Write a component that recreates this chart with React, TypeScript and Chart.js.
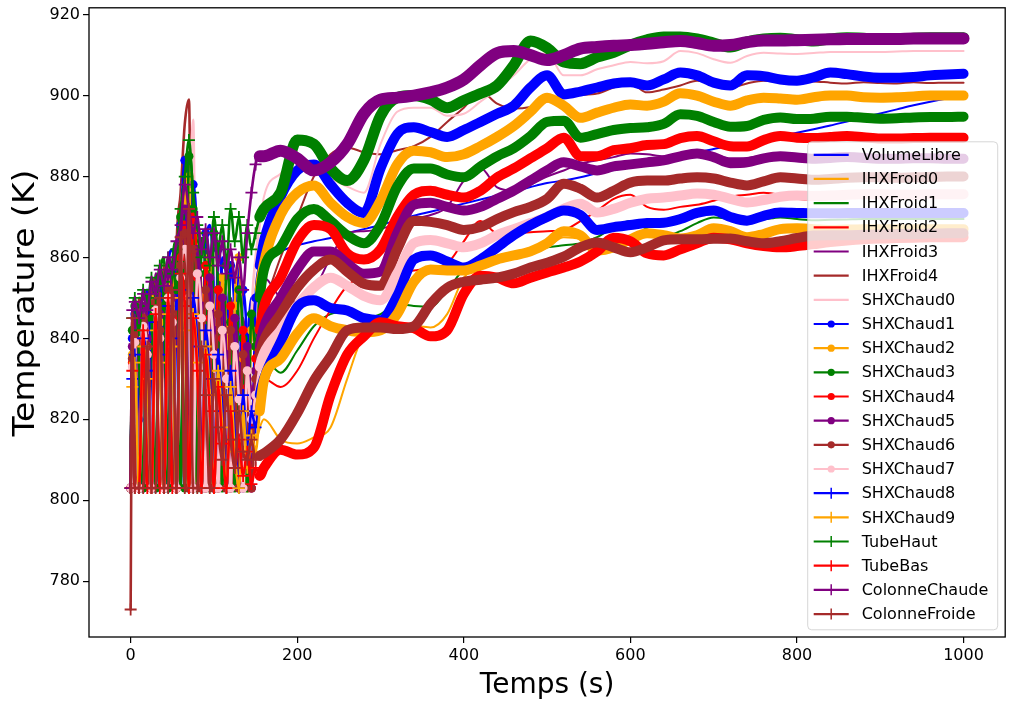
import React, { useEffect, useRef } from "react";
import { Chart, registerables } from "chart.js";

Chart.register(...registerables);

const timeS = [
  0, 2, 5, 10, 15, 20, 25, 30, 35, 40, 45,
  50, 55, 60, 65, 70, 75, 80, 85, 90, 95, 100,
  105, 110, 115, 120, 125, 130, 135, 140, 145, 150, 155,
  160, 180, 200, 220, 240, 260, 280, 300, 320, 340,
  360, 380, 400, 420, 440, 460, 480, 500, 520, 540,
  560, 580, 600, 620, 640, 660, 680, 700, 720, 740,
  760, 780, 800, 820, 840, 860, 880, 900, 920, 940,
  960, 980, 1000,
];

const xTicks = [0, 200, 400, 600, 800, 1000];
const yTicks = [780, 800, 820, 840, 860, 880, 900, 920];

const volumeLibre = [
  803, 838, 845, 803, 848, 852, 803, 855, 849, 803, 858,
  862, 846, 803, 870, 884, 866, 850, 803, 858, 868, 852,
  803, 860, 855, 803, 840, 858, 803, 835, 850, 838, 852,
  858, 861.5, 863, 864, 864.8, 866, 867, 868, 869.2, 870.3,
  871.3, 872.3, 873.3, 874.3, 875.3, 876.3, 877.4, 878.4, 879, 879.8,
  880.8, 881.6, 882.5, 883.3, 884.2, 885, 885.9, 886.8, 887.5, 888.2,
  889, 889.9, 890.8, 891.7, 892.6, 893.6, 894.6, 895.6, 896.6, 897.6,
  898.5, 899.3, 900,
];

const ihxFroid0 = [
  803, 836, 842, 832, 803, 845, 838, 803, 850, 842, 803,
  855, 848, 866, 803, 878, 860, 803, 845, 830, 803, 838,
  825, 803, 832, 818, 803, 826, 812, 803, 822, 815, 818,
  820, 815, 814, 815.5, 818, 830, 841, 843, 843.5, 843.2,
  842.7, 846, 855, 857.5, 859, 860, 861, 862.5, 865, 864.5,
  862.5, 863, 865, 866, 865.5, 865, 865.7, 867, 866.6, 865.3,
  866, 866.8, 867, 866.9, 866.8, 866.8, 866.9, 866.9, 866.9, 866.9,
  866.9, 866.9, 866.9,
];

const ihxFroid1 = [
  803, 840, 846, 803, 850, 840, 855, 803, 852, 860, 803,
  858, 864, 803, 872, 886, 803, 862, 850, 803, 860, 845,
  803, 852, 840, 803, 848, 832, 803, 838, 826, 830, 833,
  835, 831.5, 837, 843, 846, 846.5, 845, 846, 848.5, 848,
  847.8, 851.9, 857, 858.8, 860, 860.5, 861.5, 862.5, 863, 863.5,
  865, 867.5, 869, 867, 865.2, 866.5, 868.5, 869.9, 869.5, 869,
  869.4, 869.9, 869.5, 869.2, 869.3, 869.4, 869.5, 869.5, 869.5, 869.5,
  869.5, 869.5, 869.5,
];

const ihxFroid2 = [
  803, 832, 803, 840, 835, 803, 846, 838, 803, 850, 844,
  803, 856, 860, 803, 870, 852, 803, 842, 830, 803, 836,
  822, 803, 830, 812, 803, 824, 806, 803, 820, 826, 828,
  830, 828, 832, 840, 847, 853, 855.5, 856.8, 856.5, 856.8,
  857.5, 858.5, 864, 869, 866, 866, 866.2, 866.5, 866.8, 869,
  871.5, 874.5, 875.5, 872.5, 871.8, 872.5, 873, 874, 875, 875.5,
  876, 875.5, 874.5, 874.2, 874.5, 874.8, 875, 875, 875, 875,
  875, 875, 875,
];

const ihxFroid3 = [
  803, 842, 848, 803, 852, 845, 803, 856, 850, 803, 860,
  855, 803, 868, 876, 803, 870, 858, 803, 864, 850, 803,
  856, 845, 803, 850, 838, 803, 845, 832, 840, 850, 855,
  855, 850, 849, 852, 860, 866, 866.5, 867, 868.5, 869.5,
  870.5, 872.5, 879, 882.2, 877.3, 876.5, 878, 880, 881.5, 883.2,
  884, 884.8, 885.7, 885.5, 885, 885.5, 886, 885.5, 884.5, 884.6,
  885.2, 885.3, 885, 884.8, 884.8, 884.9, 884.9, 884.8, 884.8, 884.9,
  884.9, 884.9, 884.9,
];

const ihxFroid4 = [
  803, 845, 803, 850, 843, 803, 855, 848, 803, 858, 852,
  803, 862, 876, 893, 899, 803, 860, 848, 803, 855, 840,
  803, 846, 832, 803, 840, 826, 803, 832, 820, 835, 845,
  848, 860, 870, 880, 885.5, 887.2, 886, 885.5, 886.5, 887.5,
  889.8, 893.5, 897, 901, 898, 896.8, 897.2, 898.5, 900, 900.2,
  900.5, 902, 903, 900.8, 901.5, 902.5, 903.7, 903.3, 902, 903,
  903.7, 903.4, 903, 903.5, 903.2, 903, 903.3, 903.1, 903, 903.3,
  903.1, 903.2, 903.2,
];

const shxChaud0 = [
  803, 838, 844, 803, 849, 842, 803, 852, 846, 803, 856,
  850, 803, 866, 880, 872, 894, 803, 864, 852, 803, 862,
  848, 803, 855, 842, 803, 850, 836, 803, 845, 860, 868,
  875, 880.7, 884, 881, 879.5, 877.5, 876, 888, 896, 897,
  897, 895, 895.5, 898.5, 901.5, 905, 909, 910.5, 905, 905,
  906.5, 907.5, 908.3, 908, 908.5, 911, 910.5, 909, 908.1, 909.8,
  910.6, 910.4, 910.3, 910.5, 910.8, 910.8, 910.8, 910.8, 910.9, 911,
  911, 911, 911,
];

const shxChaud1 = [
  803, 840, 846, 820, 803, 848, 836, 803, 852, 843, 803,
  856, 848, 868, 884, 803, 878, 862, 803, 866, 854, 803,
  862, 850, 803, 858, 845, 803, 852, 838, 803, 850, 858,
  864, 875, 881.5, 883, 878, 873.5, 871, 882, 890.5, 892.2,
  891, 889.8, 891.5, 893.5, 895.5, 897.5, 902, 905, 900.3, 901,
  902, 903, 903.3, 902.5, 904, 905.7, 905, 903.2, 902.5, 905,
  904.8, 904, 903.7, 904.5, 905.7, 905.3, 904.7, 904.4, 904.4, 904.6,
  905, 905.2, 905.4,
];

const shxChaud2 = [
  803, 836, 842, 803, 846, 838, 803, 850, 844, 803, 853,
  858, 803, 862, 874, 880, 803, 866, 850, 803, 860, 846,
  803, 855, 842, 803, 848, 860, 835, 803, 842, 838, 852,
  858.5, 870.5, 876, 877.8, 873.5, 870, 868.5, 874, 883, 886.4,
  886, 884.8, 885.5, 887.5, 889.8, 892.5, 896, 899.5, 897.5, 894.5,
  895.8, 897, 897.8, 897.5, 898.5, 900.6, 900, 898.5, 897.5, 898.8,
  899.5, 899.3, 899, 899.6, 900, 900, 899.6, 899.5, 899.6, 899.8,
  900, 900, 900,
];

const shxChaud3 = [
  803, 842, 848, 835, 803, 850, 845, 803, 855, 848, 803,
  858, 852, 870, 803, 885, 872, 803, 864, 856, 803, 866,
  852, 803, 858, 844, 803, 852, 840, 803, 846, 838, 850,
  857, 862.5, 869.5, 872, 869, 865.5, 863.5, 868, 877.5, 882,
  882, 880.5, 879.8, 882.5, 885, 887, 890, 893.5, 893.8, 889.6,
  890.5, 891.5, 892, 892.2, 893, 895.4, 895, 893.5, 892.3, 892.5,
  894, 894.6, 894.2, 894.3, 894.8, 894.8, 894.5, 894.3, 894.4, 894.6,
  894.7, 894.7, 894.8,
];

const shxChaud4 = [
  803, 834, 840, 803, 844, 836, 803, 848, 840, 803, 852,
  845, 803, 860, 868, 803, 870, 855, 803, 858, 845, 803,
  852, 840, 803, 848, 832, 803, 842, 828, 803, 835, 842,
  847.7, 855, 864, 868, 867, 861, 859.5, 862, 870, 875.5,
  876.5, 875.5, 874.8, 876.5, 879.8, 882, 884.5, 887, 889.6, 885,
  885, 886.5, 887, 887.8, 888, 889.5, 890, 888.7, 887.5, 887.4,
  889, 890, 889.6, 889.5, 889.8, 890, 889.7, 889.4, 889.4, 889.5,
  889.6, 889.6, 889.6,
];

const shxChaud5 = [
  803, 838, 845, 803, 848, 840, 803, 852, 846, 803, 856,
  850, 803, 864, 872, 858, 803, 862, 848, 803, 855, 842,
  803, 850, 836, 803, 845, 830, 803, 838, 826, 832, 838,
  842.7, 850, 857, 861.5, 861.5, 858.5, 856, 856.5, 866, 873,
  873.5, 872.5, 871.6, 872.5, 874.5, 876.5, 879, 881.5, 883.5, 882.5,
  881.5, 882.5, 883, 883.5, 884, 885, 885.7, 884.8, 883.3, 883.5,
  884.5, 885, 884.7, 884.4, 884.6, 884.8, 884.6, 884.4, 884.4, 884.5,
  884.5, 884.4, 884.4,
];

const shxChaud6 = [
  803, 835, 841, 803, 845, 838, 803, 849, 842, 803, 852,
  846, 803, 858, 866, 803, 862, 850, 803, 852, 840, 803,
  846, 834, 803, 842, 828, 803, 836, 822, 803, 830, 836,
  839.5, 846, 852.5, 857, 859.5, 856.5, 853.5, 853, 862, 869.1,
  868.8, 868, 866.8, 867.5, 869.5, 871.2, 872.5, 874.5, 878.2, 877,
  874.8, 876.5, 878.5, 879, 879, 879.5, 879.8, 879.5, 878.5, 877.8,
  878.8, 879.8, 879.5, 879.2, 879.4, 879.7, 879.8, 879.8, 879.7, 879.8,
  879.9, 880, 880,
];

const shxChaud7 = [
  803, 833, 839, 803, 843, 836, 803, 847, 840, 803, 850,
  844, 803, 855, 862, 850, 803, 856, 845, 803, 848, 836,
  803, 842, 830, 803, 838, 825, 803, 832, 820, 826, 833,
  836.3, 842, 848, 852.6, 855, 853, 850.5, 849.4, 856, 863.5,
  864.3, 863.5, 862.5, 863.5, 865.5, 867, 868.5, 870, 872, 873.3,
  871.1, 872, 873.5, 874.5, 874.8, 875.3, 875.8, 875.5, 874.5, 873.6,
  874.2, 875, 875.3, 875.2, 875.3, 875.5, 875.6, 875.6, 875.5, 875.5,
  875.6, 875.6, 875.6,
];

const shxChaud8 = [
  803, 830, 836, 803, 840, 832, 803, 844, 836, 803, 848,
  840, 803, 852, 846, 803, 850, 838, 803, 842, 830, 803,
  836, 822, 803, 832, 816, 803, 826, 812, 822, 818, 826,
  830, 839, 847.7, 849.4, 847.5, 846.9, 845, 844.5, 850.5, 859.5,
  860.5, 859, 857.5, 859.5, 862.5, 865.5, 868, 870, 871.6, 870.5,
  866.8, 867.5, 868, 868.5, 868.6, 869.5, 871, 871.6, 870, 869.1,
  870.3, 871.1, 871, 870.9, 870.9, 871, 871, 871, 871, 871,
  871, 871, 871,
];

const shxChaud9 = [
  803, 828, 834, 803, 838, 830, 803, 842, 834, 803, 846,
  838, 803, 850, 842, 803, 846, 834, 803, 838, 826, 803,
  832, 818, 803, 828, 812, 803, 822, 808, 816, 812, 822,
  829.6, 835, 841.2, 845, 843, 842, 841.5, 842, 846, 854,
  857, 856.8, 856.8, 858, 859.5, 860.5, 861.5, 863.5, 866.5, 865.5,
  861.7, 862.5, 864.5, 866, 865.5, 864.7, 865.5, 867.2, 866.5, 865,
  865.8, 867, 867.2, 867, 866.8, 866.9, 867, 867, 867, 867,
  867, 867, 867,
];

const tubeHaut = [
  803, 845, 850, 842, 852, 848, 855, 850, 858, 854, 860,
  856, 862, 872, 880, 889, 876, 868, 860, 866, 858, 870,
  862, 868, 858, 872, 864, 870, 860, 868, 862, 866, 870,
  872, 876, 889, 888, 882, 879, 884, 895, 899.5, 900,
  899, 897, 898.8, 900.5, 902.5, 907.5, 913.5, 911.8, 908.3, 907.9,
  909.5, 910.7, 912.5, 913.8, 914.5, 914.5, 914, 913, 912, 913.3,
  914, 914.2, 913.8, 913.5, 914, 914.3, 914.2, 914, 914, 914.2,
  914.3, 914.3, 914.3,
];

const tubeBas = [
  803, 832, 803, 803, 842, 803, 803, 846, 803, 803, 850,
  803, 803, 856, 848, 803, 845, 832, 803, 836, 822, 803,
  828, 814, 803, 822, 808, 815, 806, 812, 804, 808, 806,
  808, 812.5, 811.3, 813, 826, 836, 840.5, 844, 843, 842.5,
  840.5, 842, 851, 855.5, 855, 853.6, 855, 856.3, 857.5, 859,
  861.5, 864.9, 864, 861, 860.5, 862, 863.5, 864.9, 864.5, 863.5,
  862.8, 862.5, 862.8, 863.3, 863.8, 864.2, 864.5, 864.7, 864.8, 864.9,
  865, 865, 865,
];

const colonneChaude = [
  803, 847, 849, 845, 851, 847, 854, 851, 857, 853, 860,
  857, 864, 868, 878, 872, 866, 870, 862, 867, 860, 866,
  858, 864, 856, 862, 855, 860, 852, 866, 876, 883, 885,
  885, 886.4, 884.5, 881.5, 883.5, 888, 895.5, 899, 899.5, 900,
  900.8, 902, 904, 907.5, 910.5, 911, 910, 908.8, 910, 911.6,
  912, 912.3, 912.5, 912.8, 913.2, 913.5, 913, 912.3, 912.5, 913.2,
  913.6, 913.6, 913.7, 913.8, 913.9, 914, 914, 914, 914, 914.1,
  914.1, 914.1, 914.1,
];

const colonneFroide = [
  773, 845, 803, 803, 803, 838, 803, 803, 850, 803, 803,
  852, 803, 865, 803, 872, 803, 803, 838, 826, 803, 830,
  818, 810, 826, 815, 808, 822, 812, 810, 815, 810, 811,
  811.6, 815, 821.5, 829.5, 835.5, 842, 842.7, 842.7, 842.3, 843,
  848.5, 852.5, 854, 854.5, 855, 856, 857.5, 858.7, 860.2, 862.5,
  863.7, 862.5, 861.3, 862.5, 864.2, 864.5, 864.5, 864.6, 864.7, 864,
  863.5, 864, 864.8, 865.4, 865.5, 865.5, 865.6, 865.7, 865.8, 865.8,
  865.9, 866, 866,
];

const seriesNames = [
  "VolumeLibre", "IHXFroid0", "IHXFroid1", "IHXFroid2", "IHXFroid3", "IHXFroid4",
  "SHXChaud0", "SHXChaud1", "SHXChaud2", "SHXChaud3", "SHXChaud4", "SHXChaud5",
  "SHXChaud6", "SHXChaud7", "SHXChaud8", "SHXChaud9", "TubeHaut", "TubeBas",
  "ColonneChaude", "ColonneFroide",
];

const seriesValues = [
  volumeLibre, ihxFroid0, ihxFroid1, ihxFroid2, ihxFroid3, ihxFroid4,
  shxChaud0, shxChaud1, shxChaud2, shxChaud3, shxChaud4, shxChaud5,
  shxChaud6, shxChaud7, shxChaud8, shxChaud9, tubeHaut, tubeBas,
  colonneChaude, colonneFroide,
];

const BLUE = "#0000ff", ORANGE = "#ffa500", GREEN = "#008000", RED = "#ff0000";
const PURPLE = "#800080", BROWN = "#a52a2a", PINK = "#ffc0cb";

const seriesColors = [
  BLUE, ORANGE, GREEN, RED, PURPLE, BROWN,
  PINK, BLUE, ORANGE, GREEN, RED, PURPLE,
  BROWN, PINK, BLUE, ORANGE, GREEN, RED,
  PURPLE, BROWN,
];

const seriesMarkers = [
  "none", "none", "none", "none", "none", "none",
  "none", "circle", "circle", "circle", "circle", "circle",
  "circle", "circle", "plus", "plus", "plus", "plus",
  "plus", "plus",
];

const bandWidths = [
  0, 0, 0, 0, 0, 0,
  0, 10, 10, 10, 10, 10,
  10, 10, 10, 10, 11, 10,
  12, 10,
];

const FONT = "'DejaVu Sans', 'Liberation Sans', sans-serif";
const DENSE_FROM = 155;

const overlayPlugin = {
  id: "overlay",
  afterDatasetsDraw(chart: any) {
    const { ctx, chartArea } = chart;
    const { left, right, top, bottom } = chartArea;
    ctx.save();

    ctx.strokeStyle = "#000";
    ctx.lineWidth = 1.3;
    ctx.strokeRect(left, top, right - left, bottom - top);

    const bx = right - 197.5;
    const by = top + 134;
    const bw = 190;
    const bh = 488;
    const r = 4;
    ctx.beginPath();
    ctx.moveTo(bx + r, by);
    ctx.lineTo(bx + bw - r, by);
    ctx.arcTo(bx + bw, by, bx + bw, by + r, r);
    ctx.lineTo(bx + bw, by + bh - r);
    ctx.arcTo(bx + bw, by + bh, bx + bw - r, by + bh, r);
    ctx.lineTo(bx + r, by + bh);
    ctx.arcTo(bx, by + bh, bx, by + bh - r, r);
    ctx.lineTo(bx, by + r);
    ctx.arcTo(bx, by, bx + r, by, r);
    ctx.closePath();
    ctx.fillStyle = "rgba(255,255,255,0.8)";
    ctx.fill();
    ctx.strokeStyle = "rgba(204,204,204,0.8)";
    ctx.lineWidth = 1;
    ctx.stroke();

    const rowH = 24.17;
    ctx.font = `16px ${FONT}`;
    ctx.textBaseline = "middle";
    ctx.textAlign = "left";
    for (let i = 0; i < seriesNames.length; i++) {
      const cy = by + 13 + i * rowH;
      const x0 = bx + 6;
      const x1 = bx + 41;
      const xm = (x0 + x1) / 2;
      const color = seriesColors[i];
      ctx.strokeStyle = color;
      ctx.lineWidth = 2.2;
      ctx.beginPath();
      ctx.moveTo(x0, cy);
      ctx.lineTo(x1, cy);
      ctx.stroke();
      if (seriesMarkers[i] === "circle") {
        ctx.fillStyle = color;
        ctx.beginPath();
        ctx.arc(xm, cy, 3.6, 0, Math.PI * 2);
        ctx.fill();
      } else if (seriesMarkers[i] === "plus") {
        ctx.lineWidth = 1.5;
        ctx.beginPath();
        ctx.moveTo(xm, cy - 5.5);
        ctx.lineTo(xm, cy + 5.5);
        ctx.stroke();
      }
      ctx.fillStyle = "#000";
      ctx.fillText(seriesNames[i], bx + 54, cy + 1);
    }

    ctx.fillStyle = "#000";
    ctx.font = `28px ${FONT}`;
    ctx.textAlign = "center";
    ctx.textBaseline = "alphabetic";
    ctx.fillText("Temps (s)", (left + right) / 2, 693);

    ctx.save();
    ctx.font = `30px ${FONT}`;
    ctx.translate(34, 303);
    ctx.rotate(-Math.PI / 2);
    ctx.scale(1.1, 1);
    ctx.fillText("Temperature (K)", 0, 0);
    ctx.restore();

    ctx.restore();
  },
};

export default function App() {
  const canvasRef = useRef<HTMLCanvasElement | null>(null);

  useEffect(() => {
    const canvas = canvasRef.current;
    if (!canvas) return;
    Chart.defaults.font.family = FONT;

    const n = seriesValues.length;
    const datasets = seriesValues.map((vals, i) => {
      const marker = seriesMarkers[i];
      const color = seriesColors[i];
      const hasMarker = marker !== "none";
      const band = bandWidths[i];
      const ds: any = {
        label: seriesNames[i],
        data: timeS.map((t, j) => ({ x: t, y: vals[j] })),
        borderColor: color,
        backgroundColor: color,
        borderWidth: 2,
        borderCapStyle: "round",
        borderJoinStyle: "round",
        cubicInterpolationMode: "monotone",
        pointStyle: marker === "circle" ? "circle" : "cross",
        pointBackgroundColor: color,
        pointBorderColor: color,
        pointBorderWidth: marker === "circle" ? 0 : 1.8,
        pointRadius: (c: any) => {
          if (!hasMarker || !c.raw) return 0;
          return c.raw.x < DENSE_FROM ? (marker === "circle" ? 4.5 : 6) : 0;
        },
        order: n - i,
      };
      ds.segment = {
        borderWidth: (c: any) =>
          c.p0.parsed.x >= DENSE_FROM ? (hasMarker ? band : 2) : 2.6,
      };
      return ds;
    });

    const tickFont = { family: FONT, size: 16 };

    const chart = new Chart(canvas, {
      type: "line",
      data: { datasets },
      plugins: [overlayPlugin],
      options: {
        responsive: false,
        animation: false,
        events: [],
        layout: { padding: { top: 7, right: 1.5, left: 0, bottom: 0 } },
        plugins: {
          legend: { display: false },
          tooltip: { enabled: false },
          title: { display: false },
        },
        scales: {
          x: {
            type: "linear",
            min: -50,
            max: 1050,
            afterBuildTicks: (s: any) => {
              s.ticks = xTicks.map((v) => ({ value: v }));
            },
            afterFit: (s: any) => {
              s.height = 65;
              s.paddingLeft = 0;
              s.paddingRight = 0;
            },
            grid: {
              display: true,
              drawOnChartArea: false,
              drawTicks: true,
              tickLength: 6,
              color: "#000",
              lineWidth: 1.2,
            },
            border: { display: false },
            ticks: {
              color: "#000",
              font: tickFont,
              padding: 3,
              maxRotation: 0,
              autoSkip: false,
              callback: (v: any) => String(v),
            },
          },
          y: {
            type: "linear",
            min: 766.2,
            max: 921.7,
            afterBuildTicks: (s: any) => {
              s.ticks = yTicks.map((v) => ({ value: v }));
            },
            afterFit: (s: any) => {
              s.width = 89;
              s.paddingTop = 0;
              s.paddingBottom = 0;
            },
            grid: {
              display: true,
              drawOnChartArea: false,
              drawTicks: true,
              tickLength: 6,
              color: "#000",
              lineWidth: 1.2,
            },
            border: { display: false },
            ticks: {
              color: "#000",
              font: tickFont,
              padding: 3,
              autoSkip: false,
              callback: (v: any) => String(v),
            },
          },
        },
      } as any,
    });

    return () => chart.destroy();
  }, []);

  return (
    <div
      style={{
        position: "fixed",
        left: 0,
        top: 0,
        width: 1013,
        height: 702,
        background: "#fff",
      }}
    >
      <canvas ref={canvasRef} width={1013} height={702} />
    </div>
  );
}
